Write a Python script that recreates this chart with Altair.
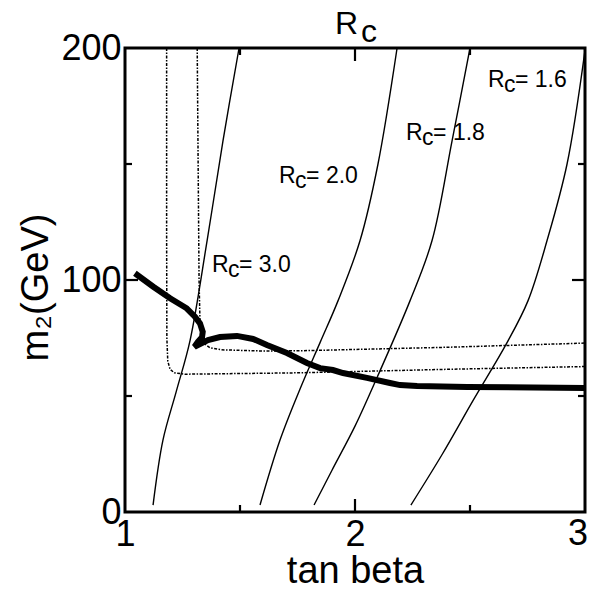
import altair as alt
import pandas as pd

FONT = "Liberation Sans, Arial, Helvetica, DejaVu Sans"

# ---- R_c contour lines (solid) ----
rc30_tb = [1.122, 1.165, 1.223, 1.283, 1.357, 1.426, 1.496]
rc30_m2 = [3, 31, 52, 74, 117, 160, 200]
rc20_tb = [1.587, 1.674, 1.761, 1.848, 1.926, 2.022, 2.100, 2.183]
rc20_m2 = [3, 31, 53, 73, 91, 117, 150, 200]
rc18_tb = [1.822, 1.900, 2.000, 2.096, 2.239, 2.335, 2.422, 2.500]
rc18_m2 = [3, 18, 37, 58, 91, 117, 160, 200]
rc16_tb = [2.243, 2.380, 2.513, 2.661, 2.752, 2.835, 2.922, 3.000]
rc16_m2 = [3, 25, 48, 73, 91, 117, 150, 199]

# ---- dash-dot contours ----
dd_outer_tb = [1.181, 1.181, 1.182, 1.186, 1.196, 1.215, 1.260, 1.761, 2.400, 3.000]
dd_outer_m2 = [200, 120, 75, 65, 61.5, 60.0, 59.4, 60.0, 61.5, 62.7]
dd_inner_tb = [1.314, 1.318, 1.322, 1.326, 1.332, 1.345, 1.370, 1.420, 1.600, 1.761, 2.400, 3.000]
dd_inner_m2 = [200, 150, 100, 82, 76, 72.5, 70.8, 69.9, 69.4, 69.5, 71.0, 72.8]

# ---- thick curve ----
thick_tb = [1.043, 1.123, 1.196, 1.268, 1.304, 1.326, 1.338, 1.335, 1.317, 1.302, 1.330,
            1.361, 1.413, 1.487, 1.557, 1.617, 1.704, 1.791, 1.848, 1.904, 1.948, 2.052,
            2.152, 2.196, 2.270, 2.487, 3.000]
thick_m2 = [102.9, 97.1, 92.1, 87.8, 84.2, 81.3, 77.7, 75.4, 73.3, 71.2, 72.6,
            74.1, 75.4, 75.9, 74.6, 72.0, 68.5, 64.2, 62.0, 61.2, 59.9, 57.8,
            55.6, 54.7, 54.3, 53.9, 53.4]

# ---- contour labels ----
label_tb = [1.378, 1.670, 2.222, 2.578]
label_m2 = [103.3, 141.7, 160.3, 183.3]
label_val = ["3.0", "2.0", "1.8", "1.6"]

# ---- axis ticks ----
x_ticks = [1.0, 2.0]          # labelled by the axis
x_last_tick = [3.0]           # labelled separately (kept inside the page edge)
y_ticks = [0.0, 100.0, 200.0]
x_in_ticks = [1.5, 2.0, 2.5]
x_in_kind = ["minor", "major", "minor"]
y_in_ticks = [50.0, 100.0, 150.0]
y_in_kind = ["minor", "major", "minor"]


def series(name, xs, ys):
    return pd.DataFrame({"series": name, "order": list(range(len(xs))), "tb": xs, "m2": ys})


solid_df = pd.concat([
    series("3.0", rc30_tb, rc30_m2),
    series("2.0", rc20_tb, rc20_m2),
    series("1.8", rc18_tb, rc18_m2),
    series("1.6", rc16_tb, rc16_m2),
])
dd_df = pd.concat([
    series("outer", dd_outer_tb, dd_outer_m2),
    series("inner", dd_inner_tb, dd_inner_m2),
])
thick_df = series("thick", thick_tb, thick_m2)
label_df = pd.DataFrame({"tb": label_tb, "m2": label_m2, "val": ["= " + v for v in label_val]})
xtick_df = pd.DataFrame({"tb": x_in_ticks, "kind": x_in_kind})
ytick_df = pd.DataFrame({"m2": y_in_ticks, "kind": y_in_kind})

W, H = 460, 464
XMIN, XMAX, YMIN, YMAX = 1, 3, 0, 200

xscale = alt.Scale(domain=[XMIN, XMAX], nice=False, zero=False)
yscale = alt.Scale(domain=[YMIN, YMAX], nice=False, zero=False)

x_axis = alt.Axis(
    values=x_ticks, format="d", title="tan beta", tickSize=0, domain=False, grid=False,
    labelFont=FONT, labelFontSize=36, labelColor="black", labelPadding=5,
    labelFlush=False, labelOverlap=False,
    titleFont=FONT, titleFontSize=38, titleFontWeight="normal", titleColor="black",
    titleX=230, titleY=70, titleAlign="center", titleBaseline="alphabetic",
)
y_axis = alt.Axis(
    values=y_ticks, format="d", title="m₂(GeV)", tickSize=0, domain=False, grid=False,
    labelFont=FONT, labelFontSize=36, labelColor="black", labelPadding=4,
    labelFlush=False, labelOverlap=False,
    titleFont=FONT, titleFontSize=38, titleFontWeight="normal", titleColor="black",
    titleAngle=270, titleX=-78, titleY=239, titleAlign="center", titleBaseline="alphabetic",
)

X = alt.X("tb:Q", scale=xscale, axis=x_axis)
Y = alt.Y("m2:Q", scale=yscale, axis=y_axis)

solid = alt.Chart(solid_df).mark_line(
    color="black", strokeWidth=1.4, interpolate="catmull-rom", clip=True
).encode(x=X, y=Y, detail="series:N", order="order:Q")

dashdot = alt.Chart(dd_df).mark_line(
    color="black", strokeWidth=1.5, strokeDash=[3, 1.5, 1.5, 1.5], clip=True
).encode(x=X, y=Y, detail="series:N", order="order:Q")

thick = alt.Chart(thick_df).mark_line(
    color="black", strokeWidth=6, clip=True
).encode(x=X, y=Y, order="order:Q")

lab_R = alt.Chart(label_df).mark_text(
    text="R", font=FONT, fontSize=23, align="left", baseline="alphabetic", color="black"
).encode(x=X, y=Y)
lab_c = alt.Chart(label_df).mark_text(
    text="c", font=FONT, fontSize=23, align="left", baseline="alphabetic", color="black",
    dx=16, dy=5
).encode(x=X, y=Y)
lab_v = alt.Chart(label_df).mark_text(
    font=FONT, fontSize=23, align="left", baseline="alphabetic", color="black", dx=27
).encode(x=X, y=Y, text="val:N")

last_lab = alt.Chart(pd.DataFrame({"tb": x_last_tick})).mark_text(
    text="3", font=FONT, fontSize=36, align="right", baseline="top", color="black", dx=3
).encode(x=X, y=alt.value(H + 5))

# inward ticks: lengths 13px (major) / 7px (minor), converted to data units
MAJ, MIN = 13, 7
ylen = f"(datum.kind == 'major' ? {MAJ} : {MIN}) * {(YMAX - YMIN) / H}"
xlen = f"(datum.kind == 'major' ? {MAJ} : {MIN}) * {(XMAX - XMIN) / W}"
rule_kw = dict(color="black", strokeWidth=2.2, clip=False)

tick_bottom = alt.Chart(xtick_df).transform_calculate(
    m2=f"{YMIN}", m2e=f"{YMIN} + {ylen}"
).mark_rule(**rule_kw).encode(x=X, y=Y, y2="m2e:Q")
tick_top = alt.Chart(xtick_df).transform_calculate(
    m2=f"{YMAX}", m2e=f"{YMAX} - {ylen}"
).mark_rule(**rule_kw).encode(x=X, y=Y, y2="m2e:Q")
tick_left = alt.Chart(ytick_df).transform_calculate(
    tb=f"{XMIN}", tbe=f"{XMIN} + {xlen}"
).mark_rule(**rule_kw).encode(y=Y, x=X, x2="tbe:Q")
tick_right = alt.Chart(ytick_df).transform_calculate(
    tb=f"{XMAX}", tbe=f"{XMAX} - {xlen}"
).mark_rule(**rule_kw).encode(y=Y, x=X, x2="tbe:Q")

title_df = pd.DataFrame({"t": ["R"]})
title_R = alt.Chart(title_df).mark_text(
    text="R", font=FONT, fontSize=32, align="left", baseline="alphabetic", color="black"
).encode(x=alt.value(210), y=alt.value(-14))
title_c = alt.Chart(title_df).mark_text(
    text="c", font=FONT, fontSize=32, align="left", baseline="alphabetic", color="black",
    dx=26, dy=8
).encode(x=alt.value(210), y=alt.value(-14))

chart = alt.layer(
    solid, dashdot, thick, lab_R, lab_c, lab_v, last_lab,
    tick_bottom, tick_top, tick_left, tick_right, title_R, title_c
).properties(
    width=W, height=H,
    autosize=alt.AutoSizeParams(type="none"),
    padding={"left": 117, "top": 40, "right": 3, "bottom": 74},
    background="white",
).configure_view(
    stroke="black", strokeWidth=3
)

chart.save("out.html", embed_options={"renderer": "svg", "actions": False})
